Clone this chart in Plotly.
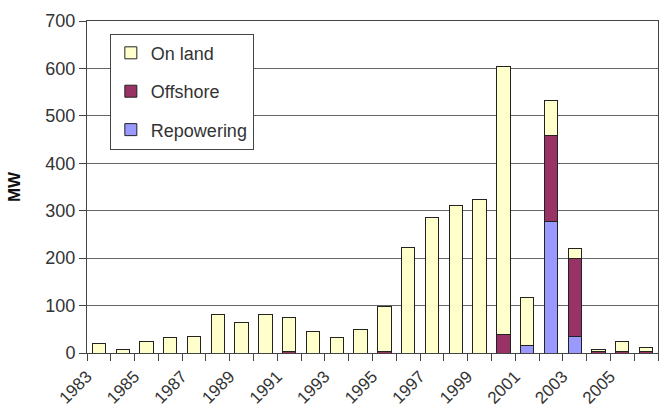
import plotly.graph_objects as go

years = list(range(1983, 2007))
on_land = [20, 7, 25, 32, 35, 82, 65, 82, 71, 46, 32, 49, 96, 222, 285, 311, 324,
           567, 101, 74, 21, 3, 22, 9]
offshore = [0, 0, 0, 0, 0, 0, 0, 0, 3, 0, 0, 0, 3, 0, 0, 0, 0,
            38, 0, 181, 165, 4, 3, 3]
repowering = [0, 0, 0, 0, 0, 0, 0, 0, 0, 0, 0, 0, 0, 0, 0, 0, 0,
              0, 15, 277, 34, 0, 0, 0]

year_labels = [str(y) for y in range(1983, 2007, 2)]
y_ticks = list(range(0, 701, 100))

outline = dict(color="#222222", width=1)

fig = go.Figure()
# stacked from the bottom: repowering, offshore, then on land on top
fig.add_trace(go.Bar(x=years, y=repowering, name="Repowering",
                     marker=dict(color="#9999FF", line=outline),
                     legendgroup="c", legendrank=3))
fig.add_trace(go.Bar(x=years, y=offshore, name="Offshore",
                     marker=dict(color="#993366", line=outline),
                     legendgroup="b", legendrank=2))
fig.add_trace(go.Bar(x=years, y=on_land, name="On land",
                     marker=dict(color="#FFFFCC", line=outline),
                     legendgroup="a", legendrank=1))

fig.update_layout(
    width=659, height=410,
    margin=dict(l=87, r=1, t=21, b=57),
    barmode="stack",
    bargap=0.44,
    plot_bgcolor="white",
    paper_bgcolor="white",
    font=dict(family="Liberation Sans, Arial, sans-serif", size=18, color="#333333"),
    legend=dict(
        x=0.04, y=0.962, xanchor="left", yanchor="top",
        bordercolor="#444444", borderwidth=1, bgcolor="white",
        font=dict(size=18, color="#333333"),
        tracegroupgap=12,
        itemwidth=30,
    ),
    xaxis=dict(
        range=[1982.5, 2006.5],
        automargin=False,
        tickmode="array",
        tickvals=[int(s) for s in year_labels],
        ticktext=year_labels,
        tickangle=-45,
        ticks="",
        ticklabelshift=-12,
        ticklabelstandoff=6,
        showgrid=False,
        showline=True, linecolor="#444444", linewidth=1, mirror=True,
        tickfont=dict(size=17, color="#333333"),
        minor=dict(ticks="outside", tick0=1982.5, dtick=1, ticklen=7,
                   tickcolor="#444444", showgrid=False),
    ),
    yaxis=dict(
        range=[0, 700],
        automargin=False,
        tickvals=y_ticks,
        ticks="outside", ticklen=7, tickcolor="#444444",
        showgrid=True, gridcolor="#666666", gridwidth=1,
        showline=True, linecolor="#444444", linewidth=1, mirror=True,
        zeroline=False,
        tickfont=dict(size=18, color="#333333"),
        title=dict(text="<b>MW</b>", font=dict(size=17, color="#111111"), standoff=20),
    ),
)

fig.write_html("out.html")
